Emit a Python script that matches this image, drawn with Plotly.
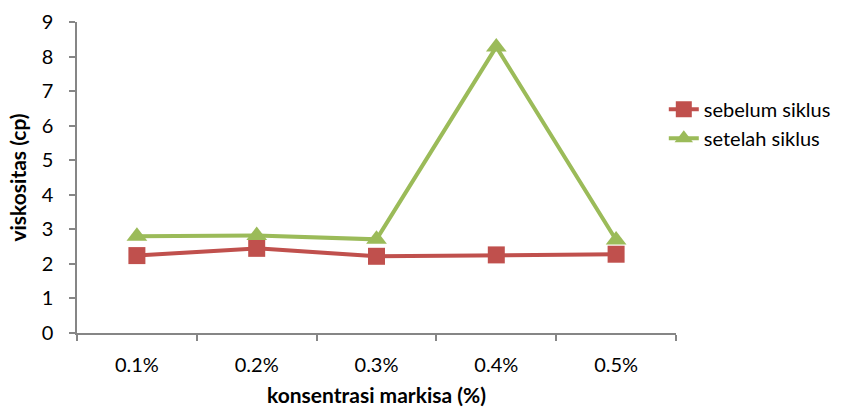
import plotly.graph_objects as go

# Viscosity before and after cycling for each passion-fruit concentration
konsentrasi = ["0.1%", "0.2%", "0.3%", "0.4%", "0.5%"]
sebelum_siklus = [2.24, 2.45, 2.22, 2.26, 2.28]
setelah_siklus = [2.80, 2.82, 2.71, 8.28, 2.69]
y_ticks = list(range(0, 10))

RED = "#C0504D"
GREEN = "#9BBB59"
AXIS = "#868686"
FONT = "Lato"

fig = go.Figure()
fig.add_trace(go.Scatter(
    x=konsentrasi, y=sebelum_siklus, name="sebelum siklus",
    mode="lines+markers",
    line=dict(color=RED, width=4),
    marker=dict(symbol="square", size=17, color=RED),
))
fig.add_trace(go.Scatter(
    x=konsentrasi, y=setelah_siklus, name="setelah siklus",
    mode="lines+markers",
    line=dict(color=GREEN, width=4),
    marker=dict(symbol="triangle-up", size=18, color=GREEN),
))

fig.update_layout(
    width=847, height=408,
    margin=dict(l=77, r=170, t=22, b=75),
    plot_bgcolor="white", paper_bgcolor="white",
    font=dict(family=FONT, size=20, color="#000000"),
    legend=dict(
        x=0.978, y=0.782, xanchor="left", yanchor="top",
        font=dict(family=FONT, size=20),
        bgcolor="rgba(0,0,0,0)",
        tracegroupgap=0,
    ),
    xaxis=dict(
        type="category",
        range=[-0.5, 4.5],
        automargin=False,
        tickson="boundaries",
        ticks="outside", ticklen=6, tickcolor=AXIS, tickwidth=1.5,
        showline=True, linecolor=AXIS, linewidth=1.5,
        showgrid=False, zeroline=False,
        tickfont=dict(family=FONT, size=20),
        ticklabelstandoff=13,
        title=dict(text="<b>konsentrasi markisa (%)</b>",
                   font=dict(family=FONT, size=21), standoff=14),
    ),
    yaxis=dict(
        range=[0, 9],
        automargin=False,
        tickvals=y_ticks,
        ticks="outside", ticklen=6, tickcolor=AXIS, tickwidth=1.5,
        showline=True, linecolor=AXIS, linewidth=1.5,
        showgrid=False, zeroline=False,
        tickfont=dict(family=FONT, size=20),
        ticklabelstandoff=12,
        title=dict(text="<b>viskositas (cp)</b>",
                   font=dict(family=FONT, size=21), standoff=9),
    ),
)

fig.write_html("out.html")
